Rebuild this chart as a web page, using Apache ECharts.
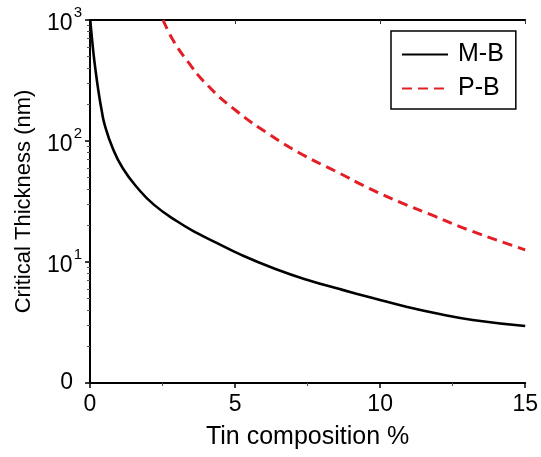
<!DOCTYPE html>
<html>
<head>
<meta charset="utf-8">
<script src="https://cdn.jsdelivr.net/npm/echarts@6/dist/echarts.min.js"></script>
<style>
html,body{margin:0;padding:0;background:#fff;}
#chart{width:541px;height:457px;}
</style>
</head>
<body>
<div id="chart"></div>
<script>
// Tin composition (%) and critical thickness (nm)
const mbX = [0.01, 0.05, 0.12, 0.2, 0.3, 0.4, 0.5, 0.78, 1.125, 1.64, 2.2, 3.0, 3.68, 4.31, 5.23, 6.37, 7.5, 8.64, 9.78, 10.9, 12.05, 13.19, 15];
const mbY = [1000, 780, 530, 370, 250, 180, 138, 87.5, 59.8, 40.9, 29.8, 21.7, 17.4, 14.6, 11.4, 8.8, 7.1, 5.94, 5.01, 4.27, 3.72, 3.32, 2.96];
const pbX = [2.52, 2.85, 3.35, 4.03, 5.06, 6.19, 7.33, 8.47, 9.6, 10.74, 11.88, 13.02, 15];
const pbY = [1000, 690, 460, 292, 176, 113, 77, 56.2, 40.9, 30.8, 23.9, 18.5, 12.6];
const seriesNames = ['M-B', 'P-B'];
const xTicks = [0, 5, 10, 15];
const yTickLabels = {1: '0', 10: '1', 100: '2', 1000: '3'};

const FONT = '"Liberation Sans", Arial, sans-serif';
const chart = echarts.init(document.getElementById('chart'), null, {renderer: 'canvas'});

const tickStyle = {color: '#000', width: 1.5};

chart.setOption({
  animation: false,
  backgroundColor: '#fff',
  grid: {left: 90, right: 11, top: 20, bottom: 74, containLabel: false},
  legend: {
    orient: 'vertical',
    left: 391, top: 31,
    padding: [11, 12, 8, 10],
    itemWidth: 46, itemHeight: 14, itemGap: 9,
    borderColor: '#000', borderWidth: 1.5,
    backgroundColor: '#fff',
    itemStyle: {opacity: 0},
    textStyle: {fontFamily: FONT, fontSize: 25, color: '#000', padding: [0, 0, 0, 5]},
    data: seriesNames
  },
  xAxis: [{
    type: 'value', min: xTicks[0], max: xTicks[xTicks.length - 1], interval: 5,
    position: 'bottom',
    name: 'Tin composition %', nameLocation: 'middle', nameGap: 42,
    nameTextStyle: {fontFamily: FONT, fontSize: 25, color: '#000'},
    axisLine: {lineStyle: {color: '#000', width: 2}},
    axisTick: {show: true, length: 5, lineStyle: tickStyle},
    minorTick: {show: true, splitNumber: 2, length: 3, lineStyle: {color: '#555', width: 1}},
    axisLabel: {fontFamily: FONT, fontSize: 23, color: '#000', margin: 10},
    splitLine: {show: false}
  }, {
    type: 'value', min: xTicks[0], max: xTicks[xTicks.length - 1], interval: 5,
    position: 'top',
    axisLine: {lineStyle: {color: '#000', width: 2}},
    axisTick: {show: true, inside: true, length: 4, lineStyle: {color: '#333', width: 1}},
    axisLabel: {show: false},
    splitLine: {show: false}
  }],
  yAxis: [{
    type: 'log', logBase: 10, min: 1, max: 1000,
    position: 'left',
    name: 'Critical Thickness (nm)', nameLocation: 'middle', nameGap: 55,
    nameTextStyle: {fontFamily: FONT, fontSize: 22, color: '#000'},
    axisLine: {lineStyle: {color: '#000', width: 2}},
    axisTick: {show: true, length: 5, lineStyle: tickStyle},
    minorTick: {show: true, splitNumber: 9, length: 3, lineStyle: {color: '#333', width: 1}},
    axisLabel: {
      margin: 8,
      formatter: function (v) {
        const e = yTickLabels[Math.round(v)];
        if (e === undefined) return '';
        if (e === '0') return '{z|0}';
        return '{b|10}{s|' + e + '}';
      },
      rich: {
        b: {fontFamily: FONT, fontSize: 23, color: '#000', lineHeight: 30, verticalAlign: 'bottom'},
        s: {fontFamily: FONT, fontSize: 15, color: '#000', lineHeight: 30, verticalAlign: 'top', padding: [0, 0, 0, 1]},
        z: {fontFamily: FONT, fontSize: 23, color: '#000', padding: [0, 9, 0, 0]}
      }
    },
    splitLine: {show: false}
  }, {
    type: 'log', logBase: 10, min: 1, max: 1000,
    position: 'right',
    axisLine: {lineStyle: {color: '#000', width: 2}},
    axisTick: {show: true, inside: true, length: 4, lineStyle: {color: '#333', width: 1}},
    minorTick: {show: true, splitNumber: 9, length: 3, lineStyle: {color: '#555', width: 1}},
    axisLabel: {show: false},
    splitLine: {show: false}
  }],
  series: [{
    name: seriesNames[0], type: 'line', xAxisIndex: 0, yAxisIndex: 0,
    data: mbX.map((x, i) => [x, mbY[i]]),
    showSymbol: false, symbol: 'none', smooth: 0.5,
    lineStyle: {color: '#000', width: 2.6},
    itemStyle: {color: '#000'},
    clip: true, z: 3
  }, {
    name: seriesNames[1], type: 'line', xAxisIndex: 0, yAxisIndex: 0,
    data: pbX.map((x, i) => [x, pbY[i]]),
    showSymbol: false, symbol: 'none', smooth: 0.5,
    lineStyle: {color: '#e41e26', width: 3, type: [10, 6]},
    itemStyle: {color: '#e41e26'},
    clip: true, z: 3
  }]
});
</script>
</body>
</html>
